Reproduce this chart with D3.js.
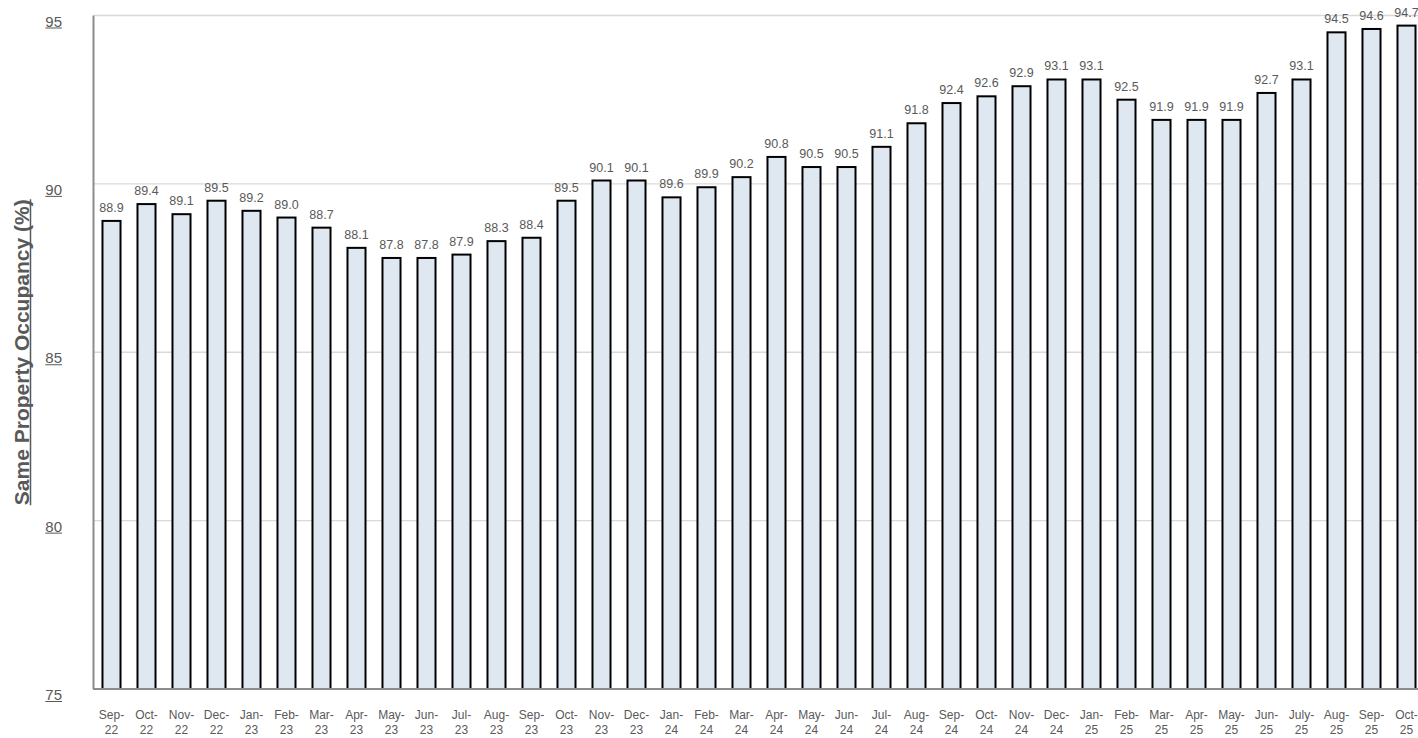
<!DOCTYPE html>
<html>
<head>
<meta charset="utf-8">
<script src="https://cdn.jsdelivr.net/npm/d3@7"></script>
<style>
  body { margin: 0; background: #fff; }
  svg { display: block; font-family: Arial, "Liberation Sans", sans-serif; }
</style>
</head>
<body>
<div id="chart"></div>
<script>
var months = ['Sep-22','Oct-22','Nov-22','Dec-22','Jan-23','Feb-23','Mar-23','Apr-23','May-23','Jun-23',
  'Jul-23','Aug-23','Sep-23','Oct-23','Nov-23','Dec-23','Jan-24','Feb-24','Mar-24','Apr-24',
  'May-24','Jun-24','Jul-24','Aug-24','Sep-24','Oct-24','Nov-24','Dec-24','Jan-25','Feb-25',
  'Mar-25','Apr-25','May-25','Jun-25','July-25','Aug-25','Sep-25','Oct-25'];

var occupancy = [88.9, 89.4, 89.1, 89.5, 89.2, 89.0, 88.7, 88.1, 87.8, 87.8,
  87.9, 88.3, 88.4, 89.5, 90.1, 90.1, 89.6, 89.9, 90.2, 90.8,
  90.5, 90.5, 91.1, 91.8, 92.4, 92.6, 92.9, 93.1, 93.1, 92.5,
  91.9, 91.9, 91.9, 92.7, 93.1, 94.5, 94.6, 94.7];

var yTicks = [75, 80, 85, 90, 95];

var width = 1418, height = 738;
var margin = {left: 94, right: -6, top: 15.5, bottom: 49};
var grey = '#595959';

var data = months.map(function(m, i) { return {month: m, value: occupancy[i]}; });

var svg = d3.select('#chart').append('svg')
  .attr('width', width)
  .attr('height', height);

var x = d3.scaleBand()
  .domain(months)
  .range([margin.left, width - margin.right])
  .paddingInner(0.485)
  .paddingOuter(0.2425);

var y = d3.scaleLinear()
  .domain([75, 95])
  .range([height - margin.bottom, margin.top]);

// gridlines
svg.append('g')
  .selectAll('line')
  .data(yTicks.slice(1))
  .enter().append('line')
  .attr('x1', margin.left)
  .attr('x2', width)
  .attr('y1', function(d) { return y(d); })
  .attr('y2', function(d) { return y(d); })
  .attr('stroke', '#d9d9d9')
  .attr('stroke-width', 1.3);

// y tick labels, underlined by hand
var tickG = svg.append('g')
  .selectAll('g')
  .data(yTicks)
  .enter().append('g')
  .attr('transform', function(d) { return 'translate(62,' + (y(d) + 11) + ')'; });

tickG.append('text')
  .attr('text-anchor', 'end')
  .style('font-size', '15px')
  .style('fill', grey)
  .text(function(d) { return d; });

tickG.append('line')
  .attr('x1', function() { return -this.parentNode.querySelector('text').getComputedTextLength(); })
  .attr('x2', 0)
  .attr('y1', 1.5).attr('y2', 1.5)
  .attr('stroke', grey)
  .attr('stroke-width', 1);

// y axis title
var titleG = svg.append('g')
  .attr('transform', 'translate(29,' + ((y(75) + y(95)) / 2) + ') rotate(-90)');

var title = titleG.append('text')
  .attr('text-anchor', 'middle')
  .style('font-size', '21px')
  .style('font-weight', 'bold')
  .style('fill', grey)
  .text('Same Property Occupancy (%)');

var tl = title.node().getComputedTextLength();
titleG.append('line')
  .attr('x1', -tl / 2).attr('x2', tl / 2)
  .attr('y1', 1.5).attr('y2', 1.5)
  .attr('stroke', grey)
  .attr('stroke-width', 1.5);

// bars
svg.append('g')
  .selectAll('rect')
  .data(data)
  .enter().append('rect')
  .attr('x', function(d) { return x(d.month); })
  .attr('y', function(d) { return y(d.value); })
  .attr('width', x.bandwidth())
  .attr('height', function(d) { return y(75) - y(d.value); })
  .attr('fill', '#dfe7f0')
  .attr('stroke', '#000')
  .attr('stroke-width', 2);

// value labels
svg.append('g')
  .selectAll('text')
  .data(data)
  .enter().append('text')
  .attr('x', function(d) { return x(d.month) + x.bandwidth() / 2; })
  .attr('y', function(d) { return y(d.value) - 9; })
  .attr('text-anchor', 'middle')
  .style('font-size', '12.5px')
  .style('fill', grey)
  .text(function(d) { return d.value.toFixed(1); });

// axis lines
svg.append('line')
  .attr('x1', margin.left - 0.5).attr('x2', margin.left - 0.5)
  .attr('y1', margin.top).attr('y2', y(75))
  .attr('stroke', '#8c8c8c').attr('stroke-width', 2);

svg.append('line')
  .attr('x1', margin.left - 1).attr('x2', width)
  .attr('y1', y(75)).attr('y2', y(75))
  .attr('stroke', '#8c8c8c').attr('stroke-width', 2);

// x labels, split over two lines
var xl = svg.append('g')
  .selectAll('text')
  .data(months)
  .enter().append('text')
  .attr('text-anchor', 'middle')
  .style('font-size', '12px')
  .style('fill', grey);

xl.append('tspan')
  .attr('x', function(d) { return x(d) + x.bandwidth() / 2; })
  .attr('y', 719)
  .text(function(d) { return d.split('-')[0] + '-'; });

xl.append('tspan')
  .attr('x', function(d) { return x(d) + x.bandwidth() / 2; })
  .attr('y', 734)
  .text(function(d) { return d.split('-')[1]; });
</script>
</body>
</html>
